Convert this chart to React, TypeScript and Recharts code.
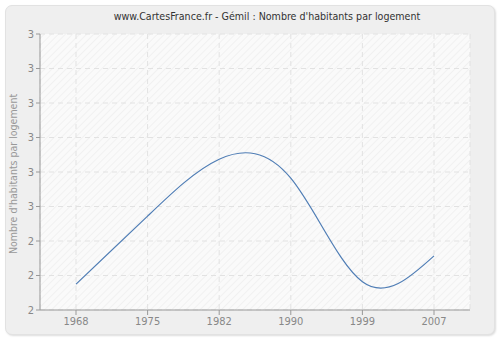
import React from 'react';
import { LineChart, Line, XAxis, YAxis, CartesianGrid } from 'recharts';

// Années de recensement et nombre d'habitants par logement
const years = ['1968', '1975', '1982', '1990', '1999', '2007'];
const habitants = [2.275, 2.472, 2.637, 2.582, 2.282, 2.357];
const yTicks = [2.2, 2.3, 2.4, 2.5, 2.6, 2.7, 2.8, 2.9, 3.0];

const data = years.map((year, i) => ({ year, value: habitants[i] }));

const FONT = '"DejaVu Sans", Verdana, sans-serif';

export default function App() {
  return (
    <div style={{ position: 'fixed', left: 0, top: 0, width: 500, height: 340, background: '#fff' }}>
      <div
        style={{
          position: 'absolute',
          left: 5,
          top: 5,
          width: 488,
          height: 328,
          background: '#efefef',
          border: '1px solid #e2e2e2',
          borderRadius: 7,
          boxShadow: '1px 1px 2px #ddd',
        }}
      />
      <div
        style={{
          position: 'absolute',
          left: 17,
          top: 10,
          width: 500,
          textAlign: 'center',
          fontFamily: FONT,
          fontStretch: 'condensed',
          fontSize: 10.6,
          color: '#333',
        }}
      >
        www.CartesFrance.fr - Gémil : Nombre d'habitants par logement
      </div>
      <div style={{ position: 'absolute', left: 0, top: 0 }}>
        <LineChart width={500} height={340} data={data} margin={{ top: 34, right: 30, bottom: 10, left: 10 }}>
          <defs>
            <pattern id="hatch" width="5" height="5" patternUnits="userSpaceOnUse" patternTransform="rotate(45)">
              <rect width="5" height="5" fill="#fafafa" />
              <line x1="0" y1="0" x2="0" y2="5" stroke="#efefef" strokeWidth="1.5" />
            </pattern>
          </defs>
          <CartesianGrid
            fill="url(#hatch)"
            stroke="#e2e2e2"
            strokeDasharray="5 4"
            horizontalValues={yTicks}
          />
          {/* bordure haute et droite de la zone du graphique */}
          <XAxis xAxisId="top" orientation="top" dataKey="year" height={0} tick={false} tickLine={false} stroke="#dedede" />
          <YAxis yAxisId="right" orientation="right" width={0} domain={[2.2, 3.0]} tick={false} tickLine={false} stroke="#dedede" />
          <XAxis
            dataKey="year"
            padding={{ left: 36, right: 36 }}
            height={20}
            stroke="#999"
            tickSize={5}
            tick={{ fill: '#888', fontSize: 11, fontFamily: FONT, fontStretch: 'condensed' }}
          />
          <YAxis
            width={30}
            domain={[2.2, 3.0]}
            ticks={yTicks}
            interval={0}
            stroke="#999"
            tickSize={4}
            tickFormatter={(v: number) => String(Math.round(v))}
            tick={{ fill: '#888', fontSize: 11, fontFamily: FONT, fontStretch: 'condensed' }}
            label={{
              value: "Nombre d'habitants par logement",
              angle: -90,
              position: 'insideLeft',
              dx: -2,
              dy: 2,
              style: { fill: '#999', fontSize: 10.5, fontFamily: FONT, fontStretch: 'condensed', textAnchor: 'middle' },
            }}
          />
          <Line
            type="natural"
            dataKey="value"
            stroke="#4f7db5"
            strokeWidth={1.2}
            dot={false}
            isAnimationActive={false}
          />
        </LineChart>
      </div>
    </div>
  );
}
